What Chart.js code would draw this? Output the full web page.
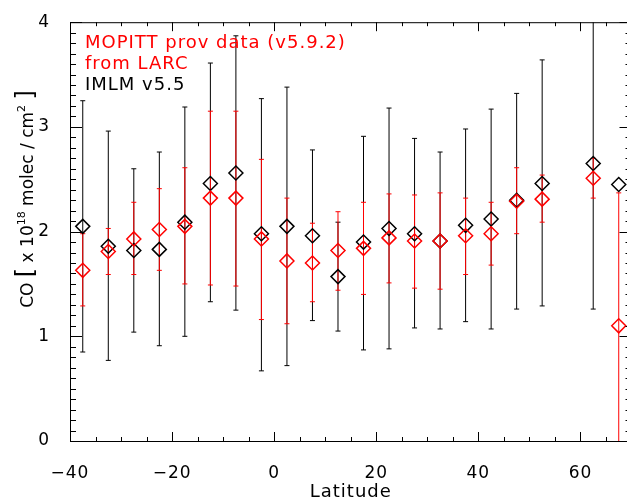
<!DOCTYPE html>
<html lang="en">
<head>
<meta charset="UTF-8">
<title>MOPITT vs IMLM CO by latitude</title>
<style>
    body { margin: 0; background: #fff; overflow: hidden; }
    #wrap { width: 640px; height: 501px; }
</style>
<script src="https://cdn.jsdelivr.net/npm/chart.js"></script>
</head>
<body>
<div id="wrap"><canvas id="coChart" width="640" height="501"></canvas></div>
<script>
    // latitude bins (centres)
    const latitudes = [-37.5, -32.5, -27.5, -22.5, -17.5, -12.5, -7.5, -2.5, 2.5, 7.5, 12.5,
                       17.5, 22.5, 27.5, 32.5, 37.5, 42.5, 47.5, 52.5, 62.5, 67.5];

    // IMLM v5.5 (black)
    const imlmCO = [2.05, 1.86, 1.82, 1.83, 2.09, 2.46, 2.56, 1.98, 2.05, 1.96, 1.57,
                    1.90, 2.03, 1.98, 1.91, 2.06, 2.12, 2.30, 2.46, 2.65, 2.45];
    const imlmHigh = [3.25, 2.96, 2.60, 2.76, 3.19, 3.61, 3.87, 3.27, 3.38, 2.78, 2.09,
                      2.91, 3.18, 2.89, 2.76, 2.98, 3.17, 3.32, 3.64, 4.05, null];
    const imlmLow = [0.85, 0.77, 1.04, 0.91, 1.00, 1.33, 1.25, 0.67, 0.72, 1.15, 1.05,
                     0.87, 0.88, 1.08, 1.07, 1.14, 1.07, 1.26, 1.29, 1.26, null];

    // MOPITT prov data v5.9.2 (red)
    const mopittCO = [1.63, 1.81, 1.93, 2.02, 2.05, 2.32, 2.32, 1.93, 1.72, 1.70, 1.82,
                      1.84, 1.94, 1.91, 1.91, 1.96, 1.98, 2.29, 2.31, 2.51, 1.10];
    const mopittHigh = [1.98, 2.03, 2.28, 2.41, 2.61, 3.15, 3.15, 2.69, 2.32, 2.08, 2.19,
                        2.28, 2.36, 2.35, 2.37, 2.32, 2.28, 2.61, 2.54, 2.70, 2.37];
    const mopittLow = [1.29, 1.59, 1.59, 1.63, 1.50, 1.49, 1.48, 1.16, 1.12, 1.33, 1.44,
                       1.40, 1.51, 1.46, 1.45, 1.59, 1.68, 1.98, 2.09, 2.32, -0.20];

    const xTickLabels = [-40, -20, 0, 20, 40, 60];
    const yTickLabels = [0, 1, 2, 3, 4];

    const FONT = 'DejaVu Sans';

    function minusSign(v) {
        return v < 0 ? '\u2212' + Math.abs(v) : String(v);
    }

    // wider letter spacing, like the original plot fonts
    const spacing = {
        id: 'spacing',
        beforeDraw(chart) { chart.ctx.letterSpacing = '1px'; }
    };

    // draws the vertical error bars with small caps
    const errorBars = {
        id: 'errorBars',
        beforeDatasetsDraw(chart) {
            const ctx = chart.ctx;
            const xs = chart.scales.x, ys = chart.scales.y;
            const area = chart.chartArea;
            ctx.save();
            ctx.beginPath();
            ctx.rect(area.left, area.top, area.right - area.left, area.bottom - area.top);
            ctx.clip();
            const sets = [[imlmHigh, imlmLow, '#000000'], [mopittHigh, mopittLow, '#ff0000']];
            sets.forEach(([hi, lo, color]) => {
                ctx.strokeStyle = color;
                ctx.lineWidth = 1;
                latitudes.forEach((lat, i) => {
                    if (hi[i] == null || lo[i] == null) return;
                    const px = xs.getPixelForValue(lat);
                    const pTop = ys.getPixelForValue(hi[i]);
                    const pBot = ys.getPixelForValue(lo[i]);
                    ctx.beginPath();
                    ctx.moveTo(px, pTop);
                    ctx.lineTo(px, pBot);
                    ctx.moveTo(px - 2.5, pTop);
                    ctx.lineTo(px + 2.5, pTop);
                    ctx.moveTo(px - 2.5, pBot);
                    ctx.lineTo(px + 2.5, pBot);
                    ctx.stroke();
                });
            });
            ctx.restore();
        }
    };

    // box, inward ticks, axis titles and the text legend
    const frame = {
        id: 'frame',
        afterDraw(chart) {
            const ctx = chart.ctx;
            const xs = chart.scales.x, ys = chart.scales.y;
            const a = chart.chartArea;
            ctx.save();
            ctx.strokeStyle = '#000';
            ctx.lineWidth = 1;
            ctx.strokeRect(a.left + 0.5, a.top + 0.5, a.right - a.left - 1, a.bottom - a.top);

            ctx.beginPath();
            for (let v = -40; v <= 70; v += 5) {
                const px = Math.round(xs.getPixelForValue(v)) + 0.5;
                const len = (v % 20 === 0) ? 9 : 4;
                ctx.moveTo(px, a.bottom);
                ctx.lineTo(px, a.bottom - len);
                ctx.moveTo(px, a.top);
                ctx.lineTo(px, a.top + len);
            }
            for (let k = 0; k <= 40; k++) {
                const py = Math.round(ys.getPixelForValue(k / 10)) + 0.5;
                const len = (k % 10 === 0) ? 12 : 6;
                ctx.moveTo(a.left, py);
                ctx.lineTo(a.left + len, py);
                ctx.moveTo(a.right, py);
                ctx.lineTo(a.right - len, py);
            }
            ctx.stroke();

            // x title
            ctx.letterSpacing = '1px';
            ctx.fillStyle = '#000';
            ctx.font = '18px "' + FONT + '"';
            ctx.textAlign = 'center';
            ctx.textBaseline = 'alphabetic';
            ctx.fillText('Latitude', (a.left + a.right) / 2, 497);

            // y title with superscripts
            ctx.letterSpacing = '0px';
            const parts = [
                ['CO ', 17, 0], ['[', 24, 0], [' x 10', 17, 0], ['18', 11, -8],
                [' molec / cm', 17, 0], ['2', 11, -8], [' ', 17, 0], [']', 24, 0]
            ];
            let total = 0;
            parts.forEach(p => {
                ctx.font = p[1] + 'px "' + FONT + '"';
                total += ctx.measureText(p[0]).width;
            });
            ctx.translate(33, 199);
            ctx.rotate(-Math.PI / 2);
            ctx.textAlign = 'left';
            let cx = -total / 2;
            parts.forEach(p => {
                ctx.font = p[1] + 'px "' + FONT + '"';
                ctx.fillText(p[0], cx, p[2]);
                cx += ctx.measureText(p[0]).width;
            });
            ctx.restore();

            ctx.save();
            ctx.font = '18px "' + FONT + '"';
            ctx.letterSpacing = '1px';
            ctx.textAlign = 'left';
            ctx.fillStyle = '#ff0000';
            ctx.fillText('MOPITT prov data (v5.9.2)', 85, 48);
            ctx.fillText('from LARC', 85, 69);
            ctx.fillStyle = '#000';
            ctx.fillText('IMLM v5.5', 85, 90);
            ctx.restore();
        }
    };

    const ctx = document.getElementById('coChart').getContext('2d');
    new Chart(ctx, {
        type: 'scatter',
        data: {
            datasets: [
                {
                    label: 'MOPITT prov data (v5.9.2) from LARC',
                    data: latitudes.map((lat, i) => ({ x: lat, y: mopittCO[i] })),
                    pointStyle: 'rectRot',
                    pointRadius: 7,
                    borderColor: '#ff0000',
                    backgroundColor: 'rgba(0,0,0,0)',
                    borderWidth: 1.5
                },
                {
                    label: 'IMLM v5.5',
                    data: latitudes.map((lat, i) => ({ x: lat, y: imlmCO[i] })),
                    pointStyle: 'rectRot',
                    pointRadius: 7,
                    borderColor: '#000000',
                    backgroundColor: 'rgba(0,0,0,0)',
                    borderWidth: 1.5
                }
            ]
        },
        options: {
            responsive: false,
            animation: false,
            clip: false,
            layout: { padding: { top: 15, right: 6, left: 0, bottom: 0 } },
            plugins: {
                legend: { display: false },
                tooltip: { enabled: false }
            },
            scales: {
                x: {
                    type: 'linear',
                    min: -40,
                    max: 70,
                    afterFit(scale) { scale.height = 60; },
                    afterBuildTicks(scale) {
                        scale.ticks = xTickLabels.map(v => ({ value: v }));
                    },
                    grid: { display: false },
                    border: { display: false },
                    ticks: {
                        color: '#000',
                        padding: 14,
                        maxRotation: 0,
                        font: { family: FONT, size: 17 },
                        callback: minusSign
                    }
                },
                y: {
                    min: 0,
                    max: 4,
                    afterFit(scale) { scale.width = 70; },
                    afterBuildTicks(scale) {
                        scale.ticks = yTickLabels.map(v => ({ value: v }));
                    },
                    grid: { display: false },
                    border: { display: false },
                    ticks: {
                        color: '#000',
                        padding: 12,
                        font: { family: FONT, size: 17 },
                        callback: v => String(v)
                    }
                }
            }
        },
        plugins: [spacing, errorBars, frame]
    });
</script>
</body>
</html>
